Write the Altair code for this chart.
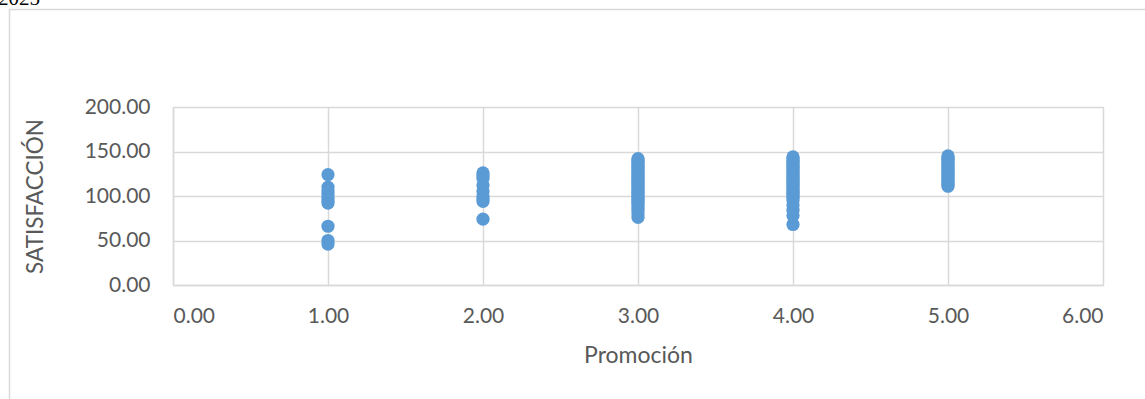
import altair as alt
import pandas as pd

# Satisfaction scores observed at each promotion level
promo_1 = [124, 110, 106, 102, 98, 95, 92, 66, 50, 46]
promo_2 = [126, 123, 120, 112, 105, 100, 97, 94, 74]
promo_3 = [142, 140, 138, 136, 134, 132, 130, 128, 126, 124, 122, 120, 118, 116,
           114, 112, 110, 108, 106, 104, 102, 100, 98, 96, 94, 92, 90, 87, 84, 80, 76]
promo_4 = [144, 142, 140, 138, 136, 134, 132, 130, 128, 126, 124, 122, 120, 118,
           116, 114, 112, 110, 108, 106, 104, 102, 100, 98, 95, 90, 84, 78, 68]
promo_5 = [145, 143, 141, 139, 137, 135, 133, 131, 129, 127, 125, 123, 121, 119,
           117, 115, 113, 111]

x_ticks = [0, 1, 2, 3, 4, 5, 6]
y_ticks = [0, 50, 100, 150, 200]

rows = []
for level, values in zip([1, 2, 3, 4, 5], [promo_1, promo_2, promo_3, promo_4, promo_5]):
    for v in values:
        rows.append({"Promoción": level, "SATISFACCIÓN": v})
df = pd.DataFrame(rows)

GRID = "#D9D9D9"
TEXT = "#595959"
FONT = "Lato"

points = alt.Chart(df).mark_circle(size=175, opacity=1, color="#5B9BD5").encode(
    x=alt.X(
        "Promoción:Q",
        scale=alt.Scale(domain=[0, 6], nice=False, zero=False),
        axis=alt.Axis(
            values=x_ticks, format=".2f", title="Promoción",
            grid=True, gridColor=GRID, gridWidth=1.5,
            domain=True, domainColor=GRID, domainWidth=1.5,
            ticks=False, labelPadding=20,
            labelFont=FONT, labelFontSize=21, labelColor=TEXT,
            titleFont=FONT, titleFontSize=23, titleColor=TEXT, titleFontWeight="normal",
            titleY=70, titleBaseline="middle",
        ),
    ),
    y=alt.Y(
        "SATISFACCIÓN:Q",
        scale=alt.Scale(domain=[0, 200], nice=False),
        axis=alt.Axis(
            values=y_ticks, format=".2f", title="SATISFACCIÓN",
            grid=True, gridColor=GRID, gridWidth=1.5,
            domain=True, domainColor=GRID, domainWidth=1.5,
            ticks=False, labelPadding=23,
            labelFont=FONT, labelFontSize=21, labelColor=TEXT,
            titleFont=FONT, titleFontSize=22.5, titleColor=TEXT, titleFontWeight="normal",
            titleAngle=270, titleX=-138, titleY=89,
            titleAlign="center", titleBaseline="middle",
        ),
    ),
)

# Outer chart frame
frame = alt.Chart(pd.DataFrame({"k": [0]})).mark_rect(
    fill=None, stroke=GRID, strokeWidth=1.5
).encode(
    x=alt.value(-163.5), x2=alt.value(1200),
    y=alt.value(-97.5), y2=alt.value(400),
)

# Year caption above the frame
caption = alt.Chart(pd.DataFrame({"t": ["2025"]})).mark_text(
    font="Liberation Serif", fontSize=21, color="#000000",
    align="left", baseline="alphabetic",
).encode(
    text="t:N", x=alt.value(-175), y=alt.value(-102),
)

chart = alt.layer(frame, points, caption).properties(
    width=930, height=178,
    autosize=alt.AutoSizeParams(type="none"),
    padding={"left": 173, "top": 107, "right": 42, "bottom": 114},
).configure_view(stroke=None).configure(background="white")

chart.save("out.html", embed_options={"renderer": "svg", "actions": False})
